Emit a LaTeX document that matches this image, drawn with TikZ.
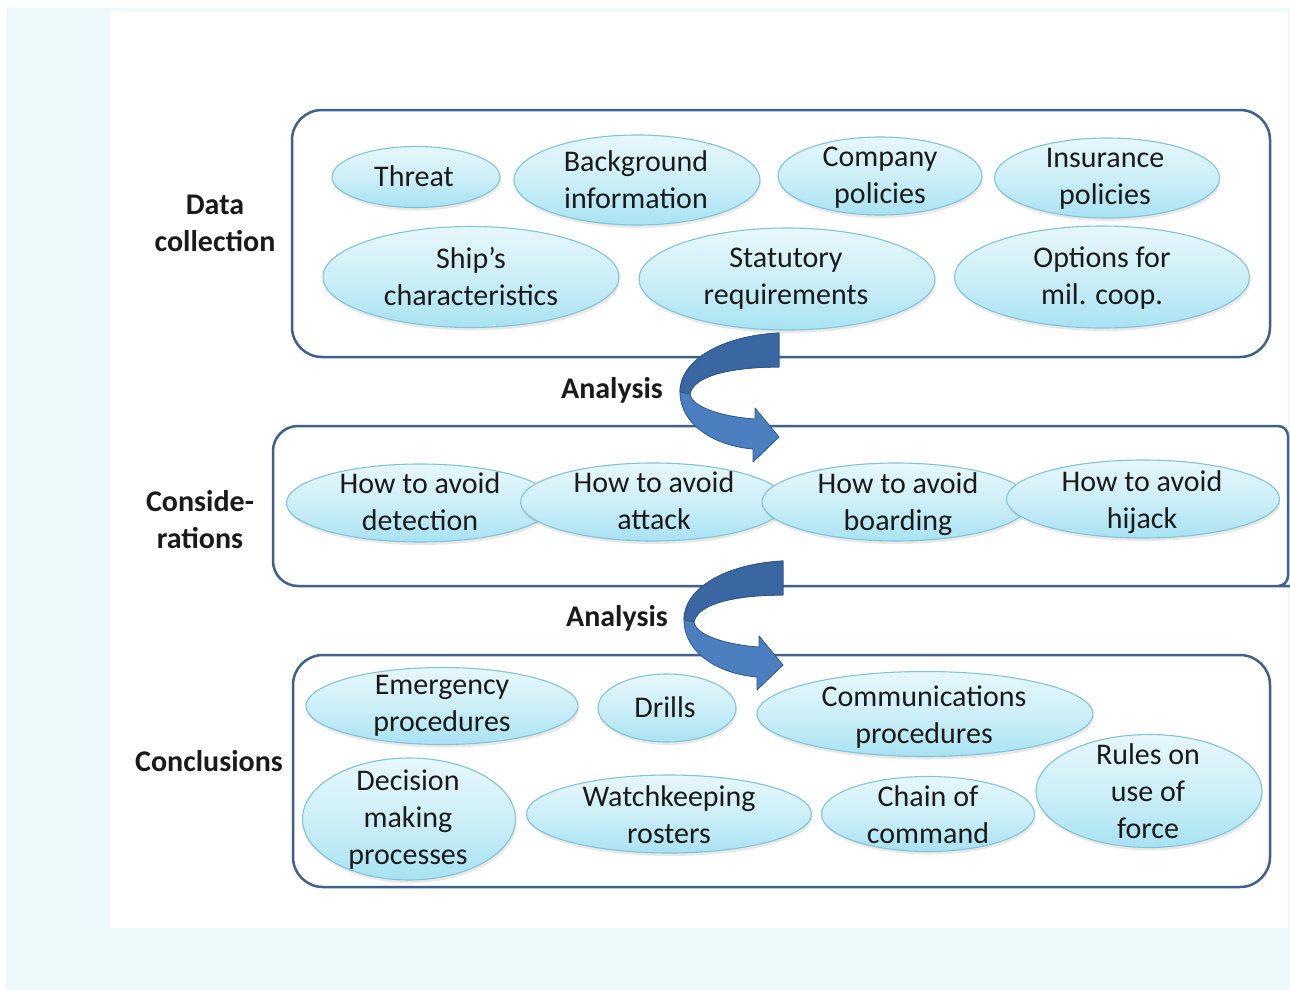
\documentclass[tikz,border=0pt]{standalone}
\usepackage{fontspec}
\setmainfont{Carlito}
\usetikzlibrary{shapes.geometric,shadows}
\definecolor{pagecyan}{HTML}{EEF9FB}
\definecolor{boxline}{HTML}{3F5F8C}
\definecolor{bubtop}{HTML}{E6F7FB}
\definecolor{bubmid}{HTML}{CDEFF8}
\definecolor{bubbot}{HTML}{A8E2F3}
\definecolor{bubline}{HTML}{82C3D6}
\definecolor{arrdark}{HTML}{3A66A2}
\definecolor{arrlight}{HTML}{4C7FC0}
\definecolor{arrline}{HTML}{2E5789}
\definecolor{txt}{HTML}{1A1A1A}
\begin{document}
\begin{tikzpicture}[x=1pt,y=-1pt,
  groupbox/.style={draw=boxline,line width=2.5pt,rounded corners=30pt,fill=white},
  bubble/.style={ellipse,draw=bubline,line width=1.1pt,inner sep=0pt,
     top color=bubtop,bottom color=bubbot,middle color=bubmid,
     drop shadow={opacity=0.18,shadow xshift=1pt,shadow yshift=-3pt}},
  btext/.style={align=center,text=txt,font=\fontsize{30}{37}\selectfont,inner sep=0pt},
  lbl/.style={align=center,text=txt,font=\fontsize{30}{37}\selectfont\bfseries,inner sep=0pt}]
\useasboundingbox (0,0) rectangle (1290,990);
\fill[white] (0,0) rectangle (1290,990);
\fill[pagecyan] (6,8) rectangle (1290,990);
\fill[white] (110,11) rectangle (1288,928);

% group boxes
\node[groupbox,minimum width=978pt,minimum height=247pt] (box1) at (781,233.5) {};
\draw[boxline,line width=2.5pt,fill=white,rounded corners=25pt] (1270,426) -- (273,426) -- (273,586) -- (1270,586)
   [rounded corners=10pt] -- (1288,586) -- (1288,426) -- cycle;
\node[groupbox,minimum width=977pt,minimum height=232pt] (box3) at (781.5,771) {};

% data collection
\node[bubble,minimum width=168pt,minimum height=61pt] (thr) at (416,177) {};
\node[bubble,minimum width=246pt,minimum height=90pt] (bgi) at (637,180) {};
\node[bubble,minimum width=204pt,minimum height=78pt] (cop) at (880,176) {};
\node[bubble,minimum width=225pt,minimum height=80pt] (inp) at (1107,178) {};
\node[bubble,minimum width=296pt,minimum height=101pt] (shc) at (471,277) {};
\node[bubble,minimum width=296pt,minimum height=102pt] (str) at (787,279) {};
\node[bubble,minimum width=295pt,minimum height=102pt] (opt) at (1102,277) {};
\node[btext] (thr-t) at (414,176) {Threat};
\node[btext] (bgi-t) at (636,180) {Background\\information};
\node[btext] (cop-t) at (880,177.5) {Company\\policies};
\node[btext] (inp-t) at (1105,179) {Insurance\\policies};
\node[btext] (shc-t) at (471,277) {Ship’s\\characteristics};
\node[btext] (str-t) at (786,279) {Statutory\\requirements};
\node[btext] (opt-t) at (1102,278.5) {Options for\\mil. coop.};

% considerations
\node[bubble,minimum width=267pt,minimum height=78pt] (det) at (420,503) {};
\node[bubble,minimum width=265pt,minimum height=78pt] (att) at (653,502) {};
\node[bubble,minimum width=268pt,minimum height=78pt] (boa) at (896,502) {};
\node[bubble,minimum width=273pt,minimum height=78pt] (hij) at (1143,499) {};
\node[btext] (det-t) at (420,501.5) {How to avoid\\detection};
\node[btext] (att-t) at (654,501) {How to avoid\\attack};
\node[btext] (boa-t) at (898,504) {How to avoid\\boarding};
\node[btext] (hij-t) at (1142,502.5) {How to avoid\\hijack};

% conclusions
\node[bubble,minimum width=272pt,minimum height=77pt] (emp) at (442,706) {};
\node[bubble,minimum width=138pt,minimum height=68pt] (dri) at (667,708) {};
\node[bubble,minimum width=336pt,minimum height=85pt] (com) at (925,714) {};
\node[bubble,minimum width=213pt,minimum height=122pt] (dmp) at (409,819) {};
\node[bubble,minimum width=285pt,minimum height=78pt] (wkr) at (669,814) {};
\node[bubble,minimum width=213pt,minimum height=75pt] (coc) at (928,814) {};
\node[bubble,minimum width=226pt,minimum height=113pt] (ruf) at (1149,791) {};
\node[btext] (emp-t) at (442,706) {Emergency\\procedures};
\node[btext] (dri-t) at (665,707) {Drills};
\node[btext] (com-t) at (924,717) {Communications\\procedures};
\node[btext] (dmp-t) at (408,820) {Decision\\making\\processes};
\node[btext] (wkr-t) at (669,814.5) {Watchkeeping\\rosters};
\node[btext] (coc-t) at (928,814.5) {Chain of\\command};
\node[btext] (ruf-t) at (1148,791) {Rules on\\use of\\force};

% side labels
\node[lbl] (l-dc) at (215,223) {Data\\collection};
\node[lbl] (l-co) at (200,520) {Conside-\\rations};
\node[lbl] (l-cl) at (209,761) {Conclusions};
\node[lbl] (l-a1) at (612,390) {Analysis};
\node[lbl] (l-a2) at (617,618) {Analysis};

% curved block arrows
\foreach \dx/\dy in {0/0, 4/228}{
\begin{scope}[shift={(\dx,\dy)}]
\fill[arrlight,draw=arrline,line width=0.8pt,line join=round]
  (779,333) .. controls (722,336) and (680,360) .. (680,392)
  .. controls (680,425) and (715,446) .. (753,449)
  -- (753,462) -- (779,437) -- (755,408) -- (755,419)
  .. controls (725,417) and (692,408) .. (690,394)
  .. controls (693,376) and (730,367) .. (779,367) -- cycle;
\fill[arrdark,draw=arrline,line width=0.8pt,line join=round]
  (779,333) .. controls (722,336) and (680,360) .. (680,392)
  -- (690,394) .. controls (693,376) and (730,367) .. (779,367) -- cycle;
\end{scope}}
\end{tikzpicture}
\end{document}
